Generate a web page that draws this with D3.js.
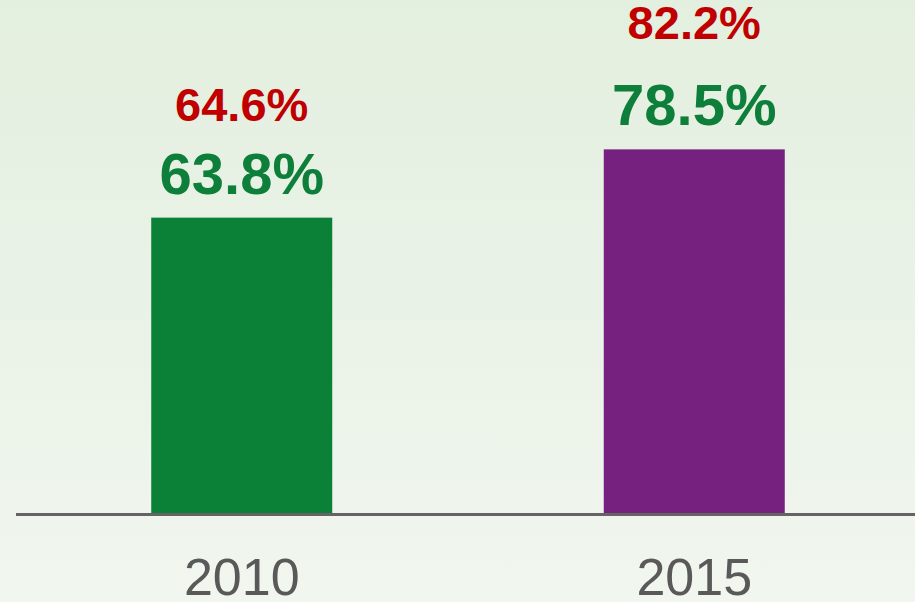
<!DOCTYPE html>
<html>
<head>
<meta charset="utf-8">
<script src="https://cdn.jsdelivr.net/npm/d3@7"></script>
<style>
  html, body { margin: 0; padding: 0; }
  body { width: 915px; height: 602px; overflow: hidden; }
  text { font-family: "Liberation Sans", Arial, sans-serif; }
</style>
</head>
<body>
<script>
// chart data
var years = ["2010", "2015"];
var values = [63.8, 78.5];        // green labels, bar heights
var topValues = [64.6, 82.2];     // red labels above
var barColors = ["#0b8037", "#76217f"];

var width = 915;
var height = 602;

var svg = d3.select("body")
  .append("svg")
  .attr("width", width)
  .attr("height", height);

// soft green background
var grad = svg.append("defs").append("linearGradient")
  .attr("id", "bg")
  .attr("x1", 0).attr("y1", 0).attr("x2", 0).attr("y2", 1);
grad.append("stop").attr("offset", "0%").attr("stop-color", "#e3efdf");
grad.append("stop").attr("offset", "45%").attr("stop-color", "#e9f2e6");
grad.append("stop").attr("offset", "100%").attr("stop-color", "#f1f6ef");

svg.append("rect")
  .attr("width", width)
  .attr("height", height)
  .attr("fill", "url(#bg)");

var x = d3.scaleBand()
  .domain(years)
  .range([20, 916])
  .paddingInner(0.6)
  .paddingOuter(0.29);

var y = d3.scaleLinear()
  .domain([0, 100])
  .range([514, 49.5]);

// bars
svg.append("g")
  .selectAll("rect")
  .data(years)
  .join("rect")
    .attr("x", d => x(d))
    .attr("width", x.bandwidth())
    .attr("y", (d, i) => y(values[i]))
    .attr("height", (d, i) => y(0) - y(values[i]))
    .attr("fill", (d, i) => barColors[i]);

// baseline
svg.append("line")
  .attr("x1", 16)
  .attr("x2", width)
  .attr("y1", y(0) + 0.5)
  .attr("y2", y(0) + 0.5)
  .attr("stroke", "#646464")
  .attr("stroke-width", 3);

// green value labels
svg.append("g")
  .selectAll("text")
  .data(years)
  .join("text")
    .attr("x", d => x(d) + x.bandwidth() / 2)
    .attr("y", (d, i) => y(values[i]) - 24)
    .attr("text-anchor", "middle")
    .attr("font-size", 58)
    .attr("font-weight", "bold")
    .attr("fill", "#0e7f3a")
    .text((d, i) => values[i].toFixed(1) + "%");

// red labels
svg.append("g")
  .selectAll("text")
  .data(years)
  .join("text")
    .attr("x", d => x(d) + x.bandwidth() / 2)
    .attr("y", (d, i) => y(topValues[i]) - 93)
    .attr("text-anchor", "middle")
    .attr("font-size", 47)
    .attr("font-weight", "bold")
    .attr("fill", "#c00000")
    .text((d, i) => topValues[i].toFixed(1) + "%");

// year labels
svg.append("g")
  .selectAll("text")
  .data(years)
  .join("text")
    .attr("x", d => x(d) + x.bandwidth() / 2)
    .attr("y", 595)
    .attr("text-anchor", "middle")
    .attr("font-size", 52)
    .attr("fill", "#595959")
    .text(d => d);
</script>
</body>
</html>
